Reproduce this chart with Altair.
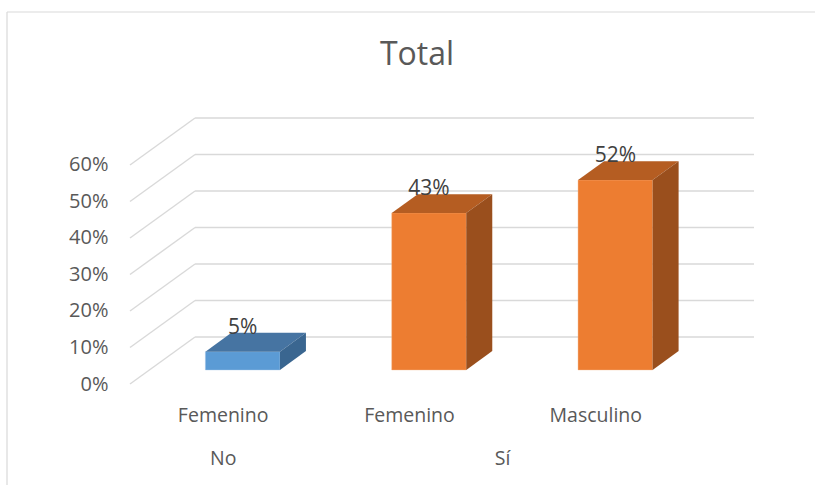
import altair as alt
import pandas as pd

# ---- data -------------------------------------------------------------
grupos = ["No", "Sí", "Sí"]
sexos = ["Femenino", "Femenino", "Masculino"]
valores = [0.05, 0.43, 0.52]
marcas_y = [0.0, 0.1, 0.2, 0.3, 0.4, 0.5, 0.6]

# ---- 3-D geometry (data units: one category slot = 1 x-unit) ----------
DX = 0.349          # horizontal depth of the back wall
DY = 0.1288         # vertical rise of the back wall
ANCHO = 0.40        # bar width
F0, F1 = 0.30, 0.70 # front / back depth fractions of each bar
YMAX = 0.7315
N = len(valores)

FONT = "Open Sans"
GRIS = "#595959"
REJILLA = "#d9d9d9"
AZUL = ("#5B9BD5", "#4674A2", "#3A6690")
NARANJA = ("#ED7D31", "#B55D22", "#9A4F1D")

xs = alt.Scale(domain=[0, N + DX], nice=False, zero=False)
ys = alt.Scale(domain=[0, YMAX], nice=False, zero=False)
y_axis = alt.Axis(values=marcas_y, format=".0%", grid=False, domain=False,
                  ticks=False, labelPadding=22, labelFontSize=20,
                  labelFont=FONT, labelColor=GRIS, title=None)

bars = pd.DataFrame({"grupo": grupos, "sexo": sexos, "valor": valores})
bars["pos"] = [i + 0.5 for i in range(N)]
bars["id"] = list(range(N))
bars["xl"] = bars["pos"] - ANCHO / 2 + F0 * DX
bars["xr"] = bars["pos"] + ANCHO / 2 + F0 * DX
bars["xc"] = bars["pos"] + F0 * DX
bars["yb"] = F0 * DY
bars["yt"] = bars["valor"] + F0 * DY
bars["ylab"] = bars["valor"] + F1 * DY
bars["cero"] = 0.0

ddx, ddy = (F1 - F0) * DX, (F1 - F0) * DY

# top face: two horizontal edges (front and back); side face: two vertical edges
top_rows = []
side_rows = []
for _, r in bars.iterrows():
    top_rows.append(dict(id=r.id, grupo=r.grupo, y=r.yt, x=r.xl, x2=r.xr))
    top_rows.append(dict(id=r.id, grupo=r.grupo, y=r.yt + ddy, x=r.xl + ddx, x2=r.xr + ddx))
    side_rows.append(dict(id=r.id, grupo=r.grupo, x=r.xr, y=r.yb, y2=r.yt))
    side_rows.append(dict(id=r.id, grupo=r.grupo, x=r.xr + ddx, y=r.yb + ddy, y2=r.yt + ddy))
top_df = pd.DataFrame(top_rows)
side_df = pd.DataFrame(side_rows)

grid = pd.DataFrame({"v": marcas_y})
grid["vb"] = grid["v"] + DY
grid["x0"] = 0.0
grid["x1"] = DX
grid["x2"] = N + DX

grupo_lab = bars.groupby("grupo", as_index=False)["pos"].mean()
grupo_lab["cero"] = 0.0


def pick(ix):
    return alt.condition(alt.datum.grupo == "No", alt.value(AZUL[ix]), alt.value(NARANJA[ix]))


diagonales = alt.Chart(grid).mark_rule(color=REJILLA, strokeWidth=1.4).encode(
    x=alt.X("x0:Q", scale=xs, axis=None), x2="x1:Q",
    y=alt.Y("v:Q", scale=ys, axis=y_axis), y2="vb:Q")

fondo = alt.Chart(grid).mark_rule(color=REJILLA, strokeWidth=1.4).encode(
    x=alt.X("x1:Q", scale=xs, axis=None), x2="x2:Q",
    y=alt.Y("vb:Q", scale=ys, axis=y_axis))

frente = alt.Chart(bars).mark_rect(strokeWidth=0.8, strokeOpacity=0.5).encode(
    x=alt.X("xl:Q", scale=xs, axis=None), x2="xr:Q",
    y=alt.Y("yb:Q", scale=ys, axis=y_axis), y2="yt:Q",
    color=pick(0),
    stroke=alt.condition(alt.datum.grupo == "No", alt.value("#9dc3e6"), alt.value("#f4b183")))

techo = alt.Chart(top_df).mark_area(orient="horizontal").encode(
    y=alt.Y("y:Q", scale=ys, axis=y_axis),
    x=alt.X("x:Q", scale=xs, axis=None), x2="x2:Q",
    detail="id:N", color=pick(1))

lado = alt.Chart(side_df).mark_area().encode(
    x=alt.X("x:Q", scale=xs, axis=None),
    y=alt.Y("y:Q", scale=ys, axis=y_axis), y2="y2:Q",
    detail="id:N", color=pick(2))

etiquetas = alt.Chart(bars).mark_text(
    font=FONT, fontSize=21, color="#404040", baseline="alphabetic", dy=1).encode(
    x=alt.X("xc:Q", scale=xs, axis=None),
    y=alt.Y("ylab:Q", scale=ys, axis=y_axis),
    text=alt.Text("valor:Q", format=".0%"))

cat_sexo = alt.Chart(bars).mark_text(
    font=FONT, fontSize=19.5, color=GRIS, baseline="middle", dy=32).encode(
    x=alt.X("pos:Q", scale=xs, axis=None),
    y=alt.Y("cero:Q", scale=ys, axis=y_axis),
    text="sexo:N")

cat_grupo = alt.Chart(grupo_lab).mark_text(
    font=FONT, fontSize=19.5, color=GRIS, baseline="middle", dy=75).encode(
    x=alt.X("pos:Q", scale=xs, axis=None),
    y=alt.Y("cero:Q", scale=ys, axis=y_axis),
    text="grupo:N")

# outer chart-area border (left and top edges)
borde_izq = alt.Chart().mark_rule(color=REJILLA, strokeWidth=1.2).encode(
    x=alt.value(-123), y=alt.value(-105), y2=alt.value(368))
borde_sup = alt.Chart().mark_rule(color=REJILLA, strokeWidth=1.2).encode(
    x=alt.value(-123), x2=alt.value(685), y=alt.value(-105))

chart = alt.layer(
    borde_izq, borde_sup, diagonales, fondo, frente, techo, lado,
    etiquetas, cat_sexo, cat_grupo
).properties(
    width=624, height=267,
    background="white",
    autosize=alt.AutoSizeParams(type="none"),
    padding={"left": 130, "top": 117, "right": 61, "bottom": 101},
    title=alt.TitleParams("Total", font=FONT, fontSize=32, fontWeight="normal",
                          color=GRIS, anchor="middle", baseline="alphabetic",
                          offset=-86, dx=-25),
).configure_view(strokeWidth=0)

chart.save("out.html", embed_options={"renderer": "svg", "actions": False})
